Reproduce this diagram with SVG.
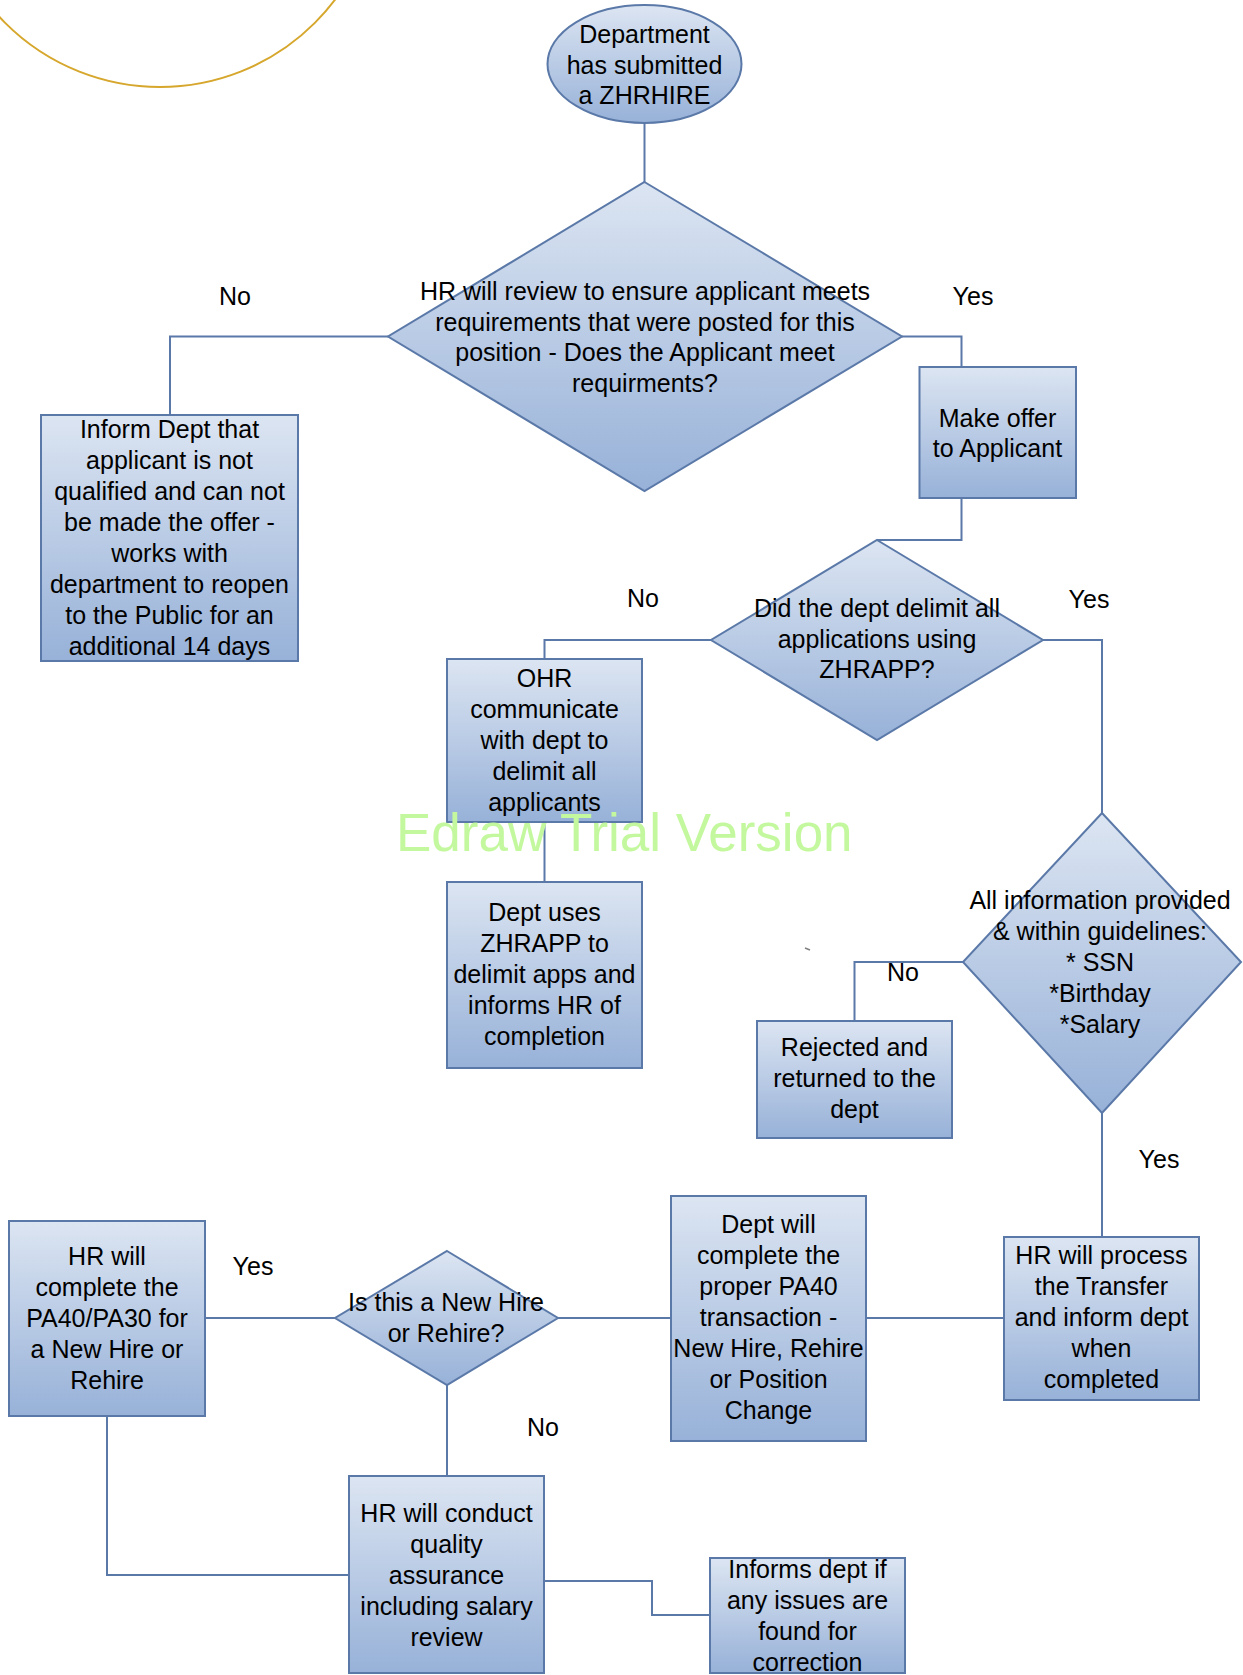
<svg xmlns="http://www.w3.org/2000/svg" width="1243" height="1675" viewBox="0 0 1243 1675">
<defs>
<linearGradient id="g" x1="0" y1="0" x2="0" y2="1">
<stop offset="0" stop-color="#dce5f2"/>
<stop offset="1" stop-color="#97b1d8"/>
</linearGradient>
<style>
.n{fill:url(#g);stroke:#5b79a8;stroke-width:2}
.c{fill:none;stroke:#5b79a8;stroke-width:2}
text{font-family:"Liberation Sans",Arial,sans-serif;font-size:25px;fill:#000;text-anchor:middle}
.wm{font-size:53px;fill:#c4f89e;text-anchor:start}
</style>
</defs>
<rect width="1243" height="1675" fill="#fff"/>
<circle cx="160" cy="-132" r="219" fill="none" stroke="#d6a72c" stroke-width="2"/>
<line x1="805" y1="948" x2="810" y2="950" stroke="#808080" stroke-width="1.5"/>
<g id="connectors">
<path class="c" d="M644.5 123 V182"/>
<path class="c" d="M388 336.5 H170 V415"/>
<path class="c" d="M902 336.5 H961.5 V367"/>
<path class="c" d="M961.5 498 V540 H877"/>
<path class="c" d="M711 640 H544.5 V659"/>
<path class="c" d="M544.5 822 V882"/>
<path class="c" d="M1043 640 H1102 V813"/>
<path class="c" d="M963 962 H854.5 V1021"/>
<path class="c" d="M1102 1113 V1237"/>
<path class="c" d="M1004 1318 H866"/>
<path class="c" d="M671 1318 H558"/>
<path class="c" d="M335 1318 H205"/>
<path class="c" d="M447 1385 V1476"/>
<path class="c" d="M107 1416 V1575 H349"/>
<path class="c" d="M544 1581 H652 V1615 H710"/>
<text x="235" y="305">No</text>
<text x="973" y="305">Yes</text>
<text x="643" y="607">No</text>
<text x="1089" y="608">Yes</text>
<text x="903" y="981">No</text>
<text x="1159" y="1168">Yes</text>
<text x="253" y="1275">Yes</text>
<text x="543" y="1436">No</text>
</g>
<g id="start">
<ellipse class="n" cx="644.5" cy="64" rx="97" ry="59"/>
<text x="644.5" y="43">Department</text>
<text x="644.5" y="73.5">has submitted</text>
<text x="644.5" y="104">a ZHRHIRE</text>
</g>
<g id="review">
<polygon class="n" points="644.5,182 902,336.5 644.5,491 388,336.5"/>
<text x="645" y="300">HR will review to ensure applicant meets</text>
<text x="645" y="330.5">requirements that were posted for this</text>
<text x="645" y="361">position - Does the Applicant meet</text>
<text x="645" y="391.5">requirments?</text>
</g>
<g id="inform-not-qualified">
<rect class="n" x="41" y="415" width="257" height="246"/>
<text x="169.5" y="438">Inform Dept that</text>
<text x="169.5" y="469">applicant is not</text>
<text x="169.5" y="500">qualified and can not</text>
<text x="169.5" y="531">be made the offer -</text>
<text x="169.5" y="562">works with</text>
<text x="169.5" y="593">department to reopen</text>
<text x="169.5" y="624">to the Public for an</text>
<text x="169.5" y="655">additional 14 days</text>
</g>
<g id="make-offer">
<rect class="n" x="919.5" y="367" width="156.5" height="131"/>
<text x="997.5" y="427">Make offer</text>
<text x="997.5" y="457">to Applicant</text>
</g>
<g id="delimit-check">
<polygon class="n" points="877,540 1043,640 877,740 711,640"/>
<text x="877" y="617">Did the dept delimit all</text>
<text x="877" y="647.5">applications using</text>
<text x="877" y="678">ZHRAPP?</text>
</g>
<g id="ohr-communicate">
<rect class="n" x="447" y="659" width="195" height="163"/>
<text x="544.5" y="687">OHR</text>
<text x="544.5" y="718">communicate</text>
<text x="544.5" y="749">with dept to</text>
<text x="544.5" y="780">delimit all</text>
<text x="544.5" y="811">applicants</text>
</g>
<g id="dept-uses">
<rect class="n" x="447" y="882" width="195" height="186"/>
<text x="544.5" y="921">Dept uses</text>
<text x="544.5" y="952">ZHRAPP to</text>
<text x="544.5" y="983">delimit apps and</text>
<text x="544.5" y="1014">informs HR of</text>
<text x="544.5" y="1045">completion</text>
</g>
<g id="info-check">
<polygon class="n" points="1102,813 1241,962 1102,1113 963,962"/>
<text x="1100" y="909">All information provided</text>
<text x="1100" y="940">&amp; within guidelines:</text>
<text x="1100" y="971">* SSN</text>
<text x="1100" y="1002">*Birthday</text>
<text x="1100" y="1033">*Salary</text>
</g>
<g id="rejected">
<rect class="n" x="757" y="1021" width="195" height="117"/>
<text x="854.5" y="1056">Rejected and</text>
<text x="854.5" y="1087">returned to the</text>
<text x="854.5" y="1118">dept</text>
</g>
<g id="hr-process">
<rect class="n" x="1004" y="1237" width="195" height="163"/>
<text x="1101.5" y="1264">HR will process</text>
<text x="1101.5" y="1295">the Transfer</text>
<text x="1101.5" y="1326">and inform dept</text>
<text x="1101.5" y="1357">when</text>
<text x="1101.5" y="1388">completed</text>
</g>
<g id="dept-will-complete">
<rect class="n" x="671" y="1196" width="195" height="245"/>
<text x="768.5" y="1233">Dept will</text>
<text x="768.5" y="1264">complete the</text>
<text x="768.5" y="1295">proper PA40</text>
<text x="768.5" y="1326">transaction -</text>
<text x="768.5" y="1357">New Hire, Rehire</text>
<text x="768.5" y="1388">or Position</text>
<text x="768.5" y="1419">Change</text>
</g>
<g id="new-hire-check">
<polygon class="n" points="447,1251 558,1318 447,1385 335,1318"/>
<text x="446" y="1311">Is this a New Hire</text>
<text x="446" y="1342">or Rehire?</text>
</g>
<g id="hr-complete">
<rect class="n" x="9" y="1221" width="196" height="195"/>
<text x="107" y="1265">HR will</text>
<text x="107" y="1296">complete the</text>
<text x="107" y="1327">PA40/PA30 for</text>
<text x="107" y="1358">a New Hire or</text>
<text x="107" y="1389">Rehire</text>
</g>
<g id="quality-assurance">
<rect class="n" x="349" y="1476" width="195" height="197"/>
<text x="446.5" y="1522">HR will conduct</text>
<text x="446.5" y="1553">quality</text>
<text x="446.5" y="1584">assurance</text>
<text x="446.5" y="1615">including salary</text>
<text x="446.5" y="1646">review</text>
</g>
<g id="informs-dept">
<rect class="n" x="710" y="1558" width="195" height="115"/>
<text x="807.5" y="1578">Informs dept if</text>
<text x="807.5" y="1609">any issues are</text>
<text x="807.5" y="1640">found for</text>
<text x="807.5" y="1671">correction</text>
</g>
<text class="wm" x="396" y="851">Edraw Trial Version</text>
</svg>
